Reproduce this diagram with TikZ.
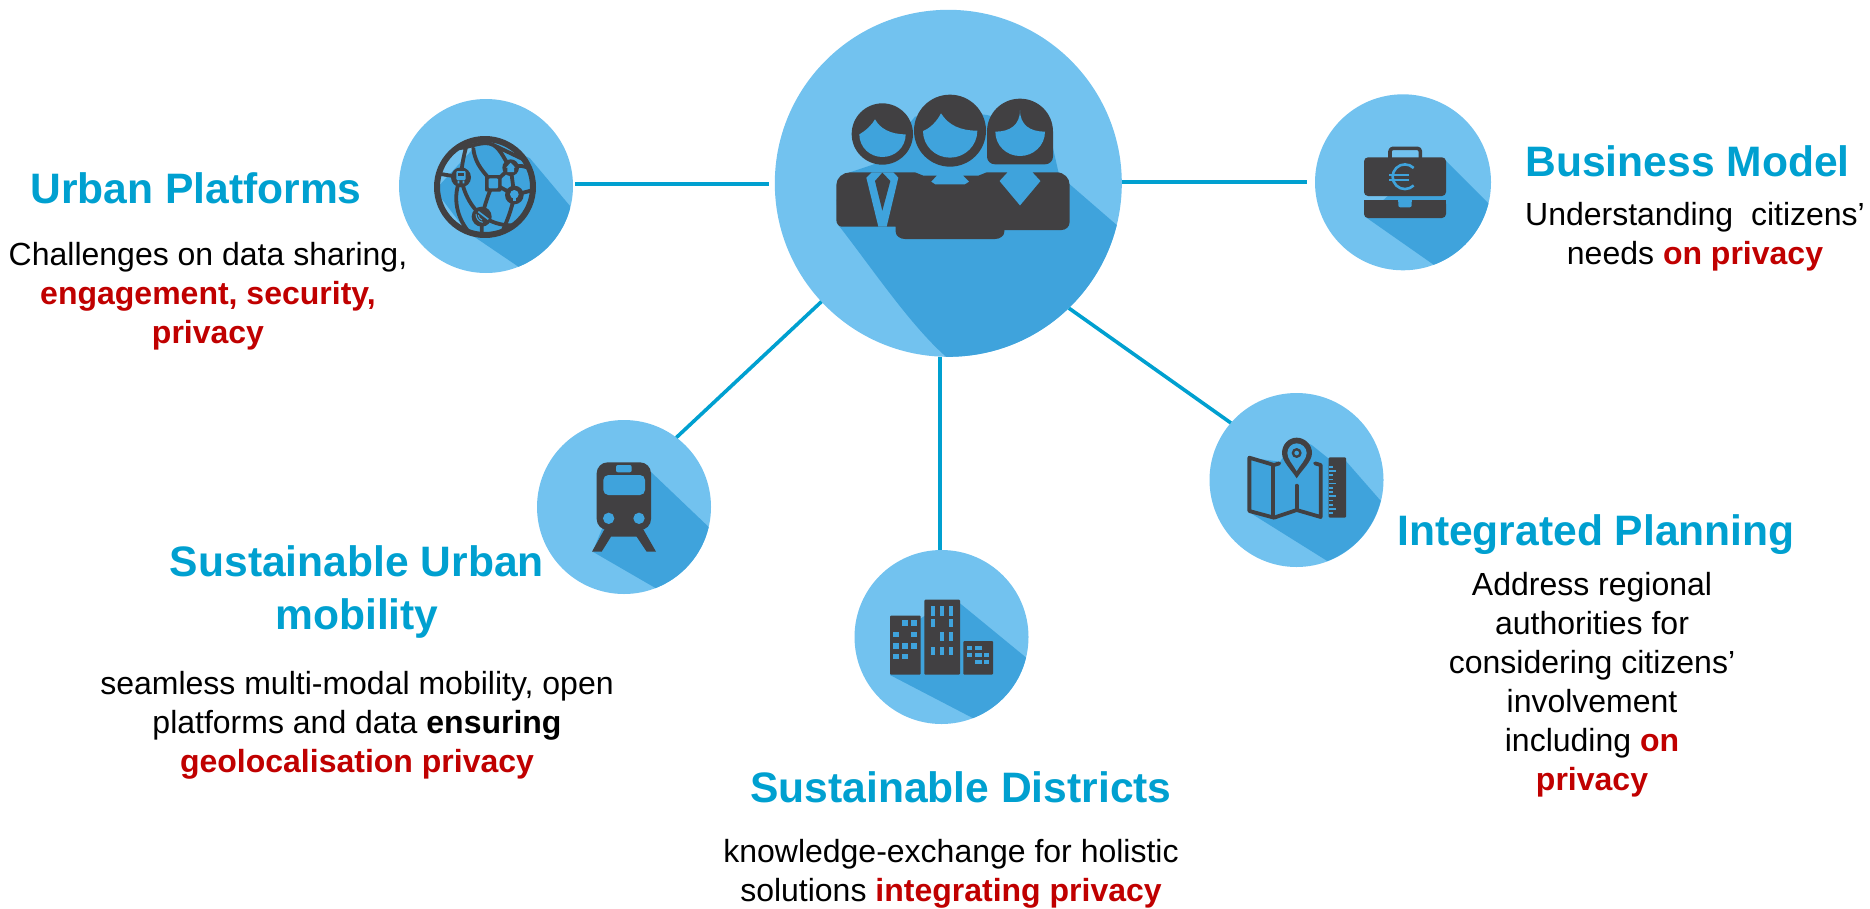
\documentclass[tikz,border=0pt]{standalone}
\usepackage{fontspec}
\setmainfont{Liberation Sans}
\definecolor{disclight}{HTML}{72C2EF}
\definecolor{discshade}{HTML}{3FA3DC}
\definecolor{icondark}{HTML}{414042}
\definecolor{linkblue}{HTML}{00A0D0}
\definecolor{titleblue}{HTML}{00A0D0}
\definecolor{hotred}{HTML}{C00000}
\newcommand{\hot}[1]{\textbf{\textcolor{hotred}{#1}}}
\tikzset{
  x=1pt,y=-1pt,
  disc/.style={circle,fill=disclight,draw=none,inner sep=0pt,outer sep=0pt},
  linkline/.style={draw=linkblue,line width=3.6pt},
  titletext/.style={text=titleblue,align=center,inner sep=0pt,font=\fontsize{42.6}{53}\selectfont\bfseries},
  bodytext/.style={text=black,align=center,inner sep=0pt,font=\fontsize{32}{39}\selectfont},
  shade/.style={fill=discshade},
  ic/.style={fill=icondark},
  icline/.style={draw=icondark,line cap=round,line join=round},
}
\begin{document}
\begin{tikzpicture}
\useasboundingbox (0,0) rectangle (1870,908);
% discs
\node[disc,minimum size=347pt] (main) at (948.3,183.3) {};
\node[disc,minimum size=174pt] (urban) at (486,186) {};
\node[disc,minimum size=176pt] (biz) at (1403,182.3) {};
\node[disc,minimum size=174pt] (plan) at (1296.5,480) {};
\node[disc,minimum size=174pt] (dist) at (941.5,637) {};
\node[disc,minimum size=174pt] (train) at (624,507) {};
% connectors
\draw[linkline] ([shift={(2,-2)}]urban.east) -- ([shift={(-6,0.7)}]main.west);
\draw[linkline] ([shift={(0.2,-1.3)}]main.east) -- ([shift={(-8,-0.3)}]biz.west);
\draw[linkline] (main.223) -- (train.53);
\draw[linkline] (main.-46) -- (plan.139);
\draw[linkline] ([xshift=-8.3pt]main.south) -- ([xshift=-1.5pt]dist.north);
% ---------- main icon
\begin{scope}
\clip (948.3,183.3) circle (173.5pt);
\begin{scope}[shift={(760,0)},scale=1/3]
\fill[shade] (235,675) .. controls (340,810) and (450,975) .. (560,1072) -- (1100,1090) -- (1085,690) -- (1070,675) -- (920,545) -- (895,515) -- (878,440) -- (878,390) -- (680,345) -- (570,330) -- (465,350) -- (350,490) -- (270,517) -- (230,600) -- cycle;
\end{scope}
\end{scope}
\begin{scope}[shift={(760,0)},scale=1/3]
\fill[ic] (367,402) circle (92);
\fill[ic] (570,392) circle (108);
\fill[ic] (681,395) .. controls (681,340) and (725,296) .. (780,296) .. controls (835,296) and (879,340) .. (879,395) -- (879,470) .. controls (879,483) and (868,493) .. (855,493) -- (705,493) .. controls (692,493) and (681,483) .. (681,470) -- cycle;
\fill[shade] (298,403) .. controls (320,390) and (335,375) .. (345,358) .. controls (360,385) and (390,403) .. (437,403) .. controls (437,442) and (405,471) .. (367,471) .. controls (330,471) and (298,442) .. (298,403) -- cycle;
\fill[shade] (489,393) .. controls (510,385) and (530,365) .. (543,340) .. controls (565,375) and (600,392) .. (652,392) .. controls (652,437) and (615,473) .. (570,473) .. controls (525,473) and (489,437) .. (489,393) -- cycle;
\fill[shade] (706,395) .. controls (750,395) and (780,375) .. (780,330) .. controls (780,375) and (810,395) .. (855,395) .. controls (855,437) and (820,468) .. (780,468) .. controls (740,468) and (706,437) .. (706,395) -- cycle;
\fill[ic] (270,517) -- (465,517) -- (490,527) -- (530,527) -- (513,545) -- (525,553) -- (615,553) -- (628,545) -- (610,527) -- (655,527) -- (680,517) -- (742,517) -- (718,543) -- (780,617) -- (842,543) -- (818,517) -- (890,517) .. controls (912,517) and (929,534) .. (929,555) -- (929,665) .. controls (929,680) and (918,690) .. (905,690) -- (733,690) -- (733,695) .. controls (733,708) and (720,717) .. (705,717) -- (435,717) .. controls (420,717) and (407,708) .. (407,695) -- (407,680) -- (245,680) .. controls (236,680) and (229,670) .. (229,660) -- (229,555) .. controls (229,534) and (248,517) .. (270,517) -- cycle;
\fill[shade] (335,517) -- (319,533) -- (355,680) -- (380,680) -- (415,533) -- (400,517) -- cycle;
\fill[ic] (367,518) -- (345,543) -- (367,632) -- (391,543) -- cycle;
\end{scope}
% ---------- urban platforms icon
\begin{scope}
\clip (486,186) circle (87pt);
\begin{scope}[shift={(390,90)},scale=1/3]
\fill[shade] (285,138) -- (420,205) -- (540,348) -- (560,400) -- (500,600) -- (385,530) -- (230,425) -- (135,300) -- cycle;
\end{scope}
\end{scope}
\begin{scope}[shift={(390,90)},scale=1/3]
\draw[icline,line width=6pt] (285,291) circle (144);
\begin{scope}
\clip (285,291) circle (148);
\draw[icline,line width=3.8pt]
  (235,150) .. controls (222,190) and (215,225) .. (213,262)
  (213,262) .. controls (185,320) and (200,385) .. (240,430)
  (213,262) .. controls (225,330) and (265,395) .. (345,405) .. controls (370,408) and (390,405) .. (415,385)
  (205,175) .. controls (250,170) and (280,150) .. (310,165) .. controls (335,180) and (345,215) .. (362,233)
  (250,175) .. controls (255,225) and (285,250) .. (310,280)
  (362,233) .. controls (385,225) and (405,225) .. (425,240)
  (310,280) -- (362,233)
  (310,280) -- (373,315)
  (362,233) -- (373,315)
  (373,315) -- (430,300)
  (373,315) .. controls (365,360) and (350,395) .. (335,430)
  (310,280) .. controls (295,310) and (285,345) .. (275,380)
  (275,380) -- (275,435)
  (310,165) -- (425,220)
  (140,250) -- (213,262);
\end{scope}
\fill[ic] (213,262) circle (30);
\fill[ic] (275,380) circle (30);
\fill[ic] (362,233) circle (25);
\fill[ic] (373,315) circle (28);
\fill[ic,rounded corners=2pt] (285,255) rectangle (335,305);
\fill[shade,rounded corners=1pt] (296,265) rectangle (324,295);
\fill[shade,rounded corners=1pt] (199,243) rectangle (227,270);
\fill[ic] (204,250) rectangle (222,258);
\fill[shade] (203,272) rectangle (208,280) (218,272) rectangle (223,280);
\fill[shade] (362,218) -- (376,233) -- (372,233) -- (372,246) -- (352,246) -- (352,233) -- (348,233) -- cycle;
\fill[shade] (373,313) circle (13);
\fill[shade] (368,322) rectangle (378,332);
\draw[draw=discshade,line width=1pt] (258,372) .. controls (258,385) and (266,395) .. (278,397) (265,375) .. controls (265,382) and (270,388) .. (276,390);
\draw[draw=discshade,line width=1.6pt] (265,365) -- (295,388);
\end{scope}
% ---------- business icon
\begin{scope}
\clip (1403,182.3) circle (88pt);
\begin{scope}[shift={(1300,85)},scale=1/3]
\fill[shade] (195,395) -- (405,542) -- (620,570) -- (620,400) -- (565,355) -- (435,225) -- (300,300) -- cycle;
\end{scope}
\end{scope}
\begin{scope}[shift={(1300,85)},scale=1/3]
\draw[icline,line width=3.6pt,rounded corners=3pt] (270,222) -- (270,190) -- (361,190) -- (361,222);
\fill[ic,rounded corners=4pt] (192,217) rectangle (438,333);
\fill[ic,rounded corners=4pt] (192,345) rectangle (438,399);
\fill[ic] (192,345) rectangle (438,360);
\fill[shade,rounded corners=2pt] (295,340) rectangle (335,367);
\fill[shade] (295,340) rectangle (335,352);
\draw[draw=discshade,line width=2.6pt] (341,249) arc[start angle=-45,end angle=-315,radius=37];
\draw[draw=discshade,line width=2pt] (268,269) -- (327,269) (268,285) -- (327,285);
\end{scope}
% ---------- integrated planning icon
\begin{scope}
\clip (1296.5,480) circle (86.7pt);
\begin{scope}[shift={(1200,385)},scale=1/3]
\fill[shade] (145,380) -- (385,530) -- (600,570) -- (600,400) -- (540,345) -- (435,225) -- (385,220) -- (335,180) -- (290,160) -- (240,230) -- (148,218) -- cycle;
\end{scope}
\end{scope}
\begin{scope}[shift={(1200,385)},scale=1/3]
\draw[icline,line width=3.8pt] (238,235) -- (222,240) -- (148,218) -- (148,378) -- (222,398) -- (290,375) -- (362,396) -- (362,240) -- (345,235);
\draw[icline,line width=3.8pt] (220,240) -- (220,395) (290,302) -- (290,375);
\fill[ic] (290,280) .. controls (275,255) and (246,230) .. (246,204) .. controls (246,178) and (266,158) .. (290,158) .. controls (314,158) and (336,178) .. (336,204) .. controls (336,230) and (305,255) .. (290,280) -- cycle;
\fill[shade] (290,258) .. controls (280,240) and (262,222) .. (262,204) .. controls (262,188) and (275,175) .. (290,175) .. controls (305,175) and (320,188) .. (320,204) .. controls (320,222) and (300,240) .. (290,258) -- cycle;
\fill[ic] (290,204) circle (15);
\fill[shade] (290,204) circle (7);
\fill[ic,rounded corners=1pt] (386,217) rectangle (438,398);
\foreach \yy/\xx in {243/399,256/409,268/399,281/399,293/409,306/399,319/399,331/409,344/399,357/399,369/409,382/399}
  \fill[shade] (386,\yy) rectangle (\xx,\yy+5);
\end{scope}
% ---------- districts icon
\begin{scope}
\clip (941.5,637) circle (87pt);
\begin{scope}[shift={(845,540)},scale=1/3]
\fill[shade] (135,405) -- (385,535) -- (600,570) -- (600,400) -- (540,350) -- (345,190) -- (238,228) -- (135,300) -- cycle;
\end{scope}
\end{scope}
\begin{scope}[shift={(845,540)},scale=1/3]
\fill[ic,rounded corners=1pt] (135,227) rectangle (227,404);
\fill[ic,rounded corners=1pt] (238,179) rectangle (345,404);
\fill[ic,rounded corners=1pt] (355,303) rectangle (444,404);
\foreach \xa/\ya/\xb/\yb in {172/241/190/258,199/241/217/258,145/276/162/292,199/276/217/292,145/309/162/326,172/309/190/326,199/309/217/326,145/342/162/358,172/342/190/358,
 259/199/269/227,286/199/296/227,313/199/323/227,259/237/269/261,313/237/323/261,286/275/296/302,313/275/323/302,259/320/269/345,286/320/296/345,313/320/323/345,
 365/317/382/330,389/317/410/330,365/338/382/351,389/338/410/351,417/338/433/351,389/359/410/372,417/359/433/372}
  \fill[shade] (\xa,\ya) rectangle (\xb,\yb);
\end{scope}
% ---------- train icon
\begin{scope}
\clip (624,507) circle (87pt);
\begin{scope}[shift={(530,410)},scale=1/3]
\fill[shade] (188,425) -- (378,535) -- (600,570) -- (600,400) -- (535,350) -- (362,185) -- (280,200) -- cycle;
\end{scope}
\end{scope}
\begin{scope}[shift={(530,410)},scale=1/3]
\fill[ic] (225,355) -- (186,425) -- (215,425) -- (243,380) -- (320,380) -- (350,425) -- (378,425) -- (338,355) -- cycle;
\fill[ic,rounded corners=11pt] (200,157) rectangle (363,360);
\fill[shade,rounded corners=2pt] (258,165) rectangle (305,187);
\fill[shade,rounded corners=5pt] (220,195) rectangle (345,255);
\fill[shade] (236,325) circle (17);
\fill[shade] (327,325) circle (17);
\end{scope}
% ---------- text
\node[titletext] (t1) at (196,188) {Urban Platforms};
\node[bodytext] (b1) at (208,296) {Challenges on data sharing,\\\hot{engagement, security,}\\\hot{privacy}};
\node[titletext] (t2) at (357,592) {Sustainable Urban\\mobility};
\node[bodytext] (b2) at (357,725) {seamless multi-modal mobility, open\\platforms and data \textbf{ensuring}\\\hot{geolocalisation privacy}};
\node[titletext] (t3) at (961,787) {Sustainable Districts};
\node[bodytext] (b3) at (951,874) {knowledge-exchange for holistic\\solutions \hot{integrating privacy}};
\node[titletext] (t4) at (1596,535) {Integrated Planning};
\node[bodytext] (b4) at (1592,685) {Address regional\\authorities for\\considering citizens’\\involvement\\including \hot{on}\\\hot{privacy}};
\node[titletext] (t5) at (1687.5,161) {Business Model};
\node[bodytext] (b5) at (1695,237) {Understanding\ \ citizens’\\needs \hot{on privacy}};
\end{tikzpicture}
\end{document}
